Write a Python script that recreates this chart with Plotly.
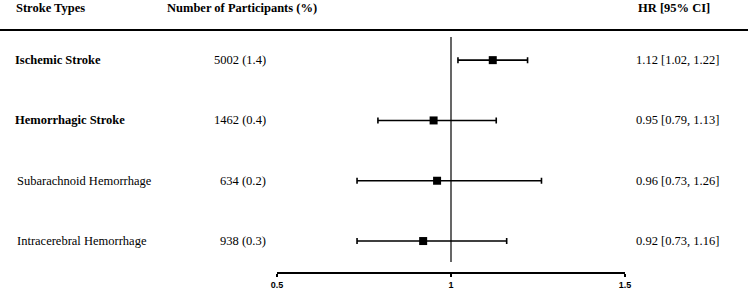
import plotly.graph_objects as go

# ---- data ----
stroke_types = ["Ischemic Stroke", "Hemorrhagic Stroke", "Subarachnoid Hemorrhage", "Intracerebral Hemorrhage"]
bold_rows = [True, True, False, False]
participants = ["5002 (1.4)", "1462 (0.4)", "634 (0.2)", "938 (0.3)"]
hr = [1.12, 0.95, 0.96, 0.92]
ci_low = [1.02, 0.79, 0.73, 0.73]
ci_high = [1.22, 1.13, 1.26, 1.16]
tick_vals = [0.5, 1, 1.5]
tick_text = ["0.5", "1", "1.5"]
headers = ["Stroke Types", "Number of Participants (%)", "HR [95% CI]"]

W, H = 750, 289
MB = 16
PH = H - MB  # plot area height
PX_PER_UNIT = 348.0
X0 = 0.5 - 277 / PX_PER_UNIT
X1 = X0 + W / PX_PER_UNIT
ROW_PX = 60.3
Y0 = 0.47
Y1 = Y0 + PH / ROW_PX

n = len(stroke_types)
ypos = [n - i for i in range(n)]

SERIF = "Liberation Serif, Times New Roman, serif"
FS = 12.5

fig = go.Figure()
fig.add_trace(go.Scatter(
    x=hr, y=ypos, mode="markers",
    marker=dict(symbol="square", size=8, color="black"),
    error_x=dict(type="data", symmetric=False,
                 array=[h - m for h, m in zip(ci_high, hr)],
                 arrayminus=[m - l for m, l in zip(hr, ci_low)],
                 color="black", thickness=1.6, width=3),
    showlegend=False, hoverinfo="skip",
))

shapes = []
# reference line at HR = 1
shapes.append(dict(type="line", xref="x", yref="paper", x0=1, x1=1,
                   y0=(PH - 262) / PH, y1=(PH - 37) / PH, line=dict(color="black", width=1.2)))
# header separator
shapes.append(dict(type="line", xref="paper", yref="paper", x0=0, x1=748 / W,
                   y0=(PH - 30) / PH, y1=(PH - 30) / PH, line=dict(color="black", width=1.8)))
# bottom axis line
shapes.append(dict(type="line", xref="x", yref="paper", x0=tick_vals[0], x1=tick_vals[-1],
                   y0=0, y1=0, line=dict(color="black", width=1.8)))

annotations = []
hdr_y = (PH - 8) / PH
annotations.append(dict(text="<b>%s</b>" % headers[0], xref="paper", yref="paper", x=14 / W, y=hdr_y,
                        xanchor="left", yanchor="middle", showarrow=False,
                        font=dict(family=SERIF, size=FS, color="black")))
annotations.append(dict(text="<b>%s</b>" % headers[1], xref="paper", yref="paper", x=242 / W, y=hdr_y,
                        xanchor="center", yanchor="middle", showarrow=False,
                        font=dict(family=SERIF, size=FS, color="black")))
annotations.append(dict(text="<b>%s</b>" % headers[2], xref="paper", yref="paper", x=674 / W, y=hdr_y,
                        xanchor="center", yanchor="middle", showarrow=False,
                        font=dict(family=SERIF, size=FS, color="black")))

for i in range(n):
    lbl = stroke_types[i]
    if bold_rows[i]:
        lbl = "<b>%s</b>" % lbl
    annotations.append(dict(text=lbl, xref="paper", yref="y", x=(13 if bold_rows[i] else 15) / W, y=ypos[i],
                            xanchor="left", yanchor="middle", showarrow=False,
                            font=dict(family=SERIF, size=FS, color="black")))
    annotations.append(dict(text=participants[i], xref="paper", yref="y", x=268 / W, y=ypos[i],
                            xanchor="right", yanchor="middle", showarrow=False,
                            font=dict(family=SERIF, size=FS, color="black")))
    annotations.append(dict(text="%.2f [%.2f, %.2f]" % (hr[i], ci_low[i], ci_high[i]),
                            xref="paper", yref="y", x=634 / W, y=ypos[i],
                            xanchor="left", yanchor="middle", showarrow=False,
                            font=dict(family=SERIF, size=FS, color="black")))

fig.update_layout(
    width=W, height=H,
    margin=dict(l=0, r=0, t=0, b=MB, pad=0),
    paper_bgcolor="white", plot_bgcolor="white",
    shapes=shapes, annotations=annotations,
    xaxis=dict(range=[X0, X1], tickvals=tick_vals, ticktext=tick_text,
               ticks="outside", ticklen=3, tickwidth=1.5, tickcolor="black",
               showline=False, showgrid=False, zeroline=False, fixedrange=True,
               tickfont=dict(family="Liberation Sans, Arial, sans-serif", size=9, color="black", weight="bold")),
    yaxis=dict(range=[Y0, Y1], visible=False, showgrid=False, zeroline=False, fixedrange=True),
)

fig.write_html("out.html", config={"displayModeBar": False, "staticPlot": True},
               post_script="document.body.style.margin='0';document.body.style.overflow='hidden';")
